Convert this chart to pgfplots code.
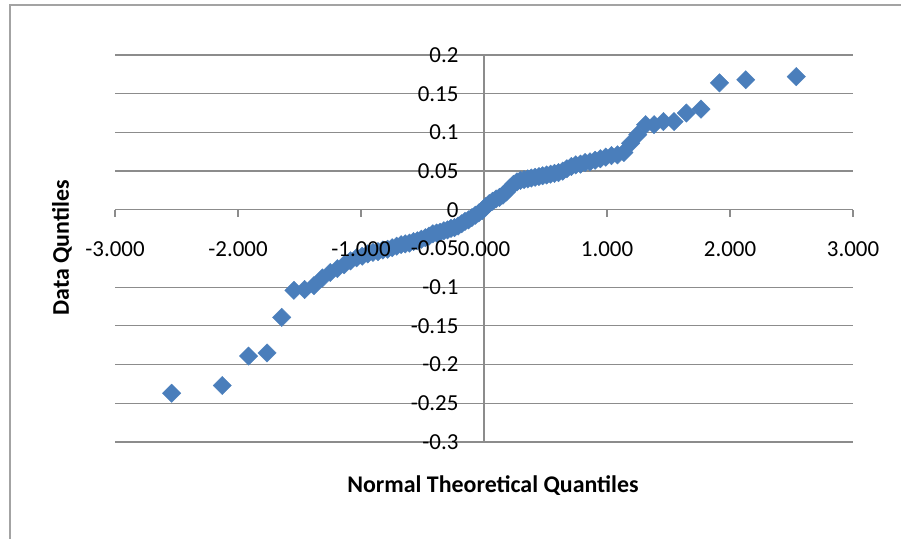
\documentclass[border=0pt]{standalone}
\usepackage{pgfplots}
\pgfplotsset{compat=1.18}
\usepackage{fontspec}
\setmainfont{Carlito}
\definecolor{exblue}{HTML}{4A7EBB}
\definecolor{gridgray}{HTML}{8C8C8C}
\pgfplotsset{
  qqbase/.style={
    scale only axis,
    width=738bp, height=387bp,
    at={(115bp,97bp)}, anchor=south west,
    xmin=-3, xmax=3, ymin=-0.3, ymax=0.2,
    axis lines=middle,
    hide obscured x ticks=false,
    hide obscured y ticks=false,
    xtick={-3,-2,-1,0,1,2,3},
    ytick={-0.3,-0.25,-0.2,-0.15,-0.1,-0.05,0,0.05,0.1,0.15,0.2},
    tick align=outside,
    major tick length=7bp,
    xticklabel style={yshift=-21bp},
    yticklabel style={xshift=-15bp},
    tick label style={font=\fontsize{23}{27}\selectfont, text=black},
    /pgf/number format/assume math mode=true,
    x tick label style={/pgf/number format/.cd, fixed, fixed zerofill, precision=3},
    y tick label style={/pgf/number format/.cd, fixed, precision=2},
    clip=false,
  }
}
\begin{document}
\begin{tikzpicture}
\useasboundingbox (0,0) rectangle (901bp,539bp);
\draw[color=gridgray!80, line width=1.5bp] (10bp,0bp) -- (10bp,534bp) -- (901bp,534bp);
% grid, axis lines, ticks and data
\begin{axis}[
  qqbase,
  ytick={-0.3,-0.25,-0.2,-0.15,-0.1,0,0.05,0.1,0.15,0.2},
  axis line style={-, color=gridgray, line width=1.2bp},
  ymajorgrids,
  major grid style={color=gridgray, line width=1.2bp},
  x tick style={color=gridgray, line width=1.2bp},
  y tick style={draw=none},
  xticklabels={}, yticklabels={},
]
\addplot[only marks, mark=square*, mark size=6.5bp,
  mark options={rotate=45, fill=exblue, draw=exblue}] coordinates {
(-2.539,-0.237) (-2.128,-0.227) (-1.914,-0.189) (-1.764,-0.185)
(-1.645,-0.139) (-1.545,-0.104) (-1.459,-0.103) (-1.383,-0.098)
(-1.314,-0.088) (-1.250,-0.081) (-1.192,-0.076) (-1.137,-0.071)
(-1.085,-0.066) (-1.036,-0.062) (-0.990,-0.060) (-0.946,-0.057)
(-0.903,-0.055) (-0.862,-0.054) (-0.822,-0.052) (-0.784,-0.051)
(-0.746,-0.049) (-0.710,-0.047) (-0.674,-0.045) (-0.640,-0.044)
(-0.606,-0.043) (-0.573,-0.041) (-0.541,-0.040) (-0.509,-0.038)
(-0.477,-0.036) (-0.447,-0.034) (-0.416,-0.031) (-0.385,-0.030)
(-0.356,-0.029) (-0.326,-0.027) (-0.297,-0.026) (-0.268,-0.024)
(-0.240,-0.023) (-0.210,-0.021) (-0.182,-0.018) (-0.154,-0.015)
(-0.126,-0.013) (-0.098,-0.010) (-0.070,-0.007) (-0.042,-0.004)
(-0.014,-0.001)
(0.014,0.004) (0.042,0.008) (0.070,0.011) (0.098,0.014)
(0.126,0.016) (0.154,0.019) (0.182,0.023) (0.210,0.028)
(0.240,0.033) (0.268,0.036) (0.297,0.038) (0.326,0.039)
(0.356,0.040) (0.385,0.041) (0.416,0.042) (0.447,0.043)
(0.477,0.044) (0.509,0.045) (0.541,0.046) (0.573,0.047)
(0.606,0.048) (0.640,0.050) (0.674,0.053) (0.710,0.056)
(0.746,0.058) (0.784,0.059) (0.822,0.061) (0.862,0.062)
(0.903,0.064) (0.946,0.066) (0.990,0.068) (1.036,0.070)
(1.085,0.071) (1.137,0.074) (1.192,0.086) (1.250,0.097)
(1.314,0.110) (1.383,0.110) (1.459,0.114) (1.545,0.114)
(1.645,0.125) (1.764,0.130) (1.914,0.164) (2.128,0.168)
(2.539,0.172)
};
\end{axis}
% tick labels on top of the data
\begin{axis}[
  qqbase,
  axis line style={draw=none},
  tick style={draw=none},
]
\end{axis}
\node[font=\bfseries\fontsize{24}{28}\selectfont, rotate=90] at (62bp,291bp) {Data Quntiles};
\node[font=\bfseries\fontsize{24}{28}\selectfont] at (493bp,53bp) {Normal Theoretical Quantiles};
\end{tikzpicture}
\end{document}
